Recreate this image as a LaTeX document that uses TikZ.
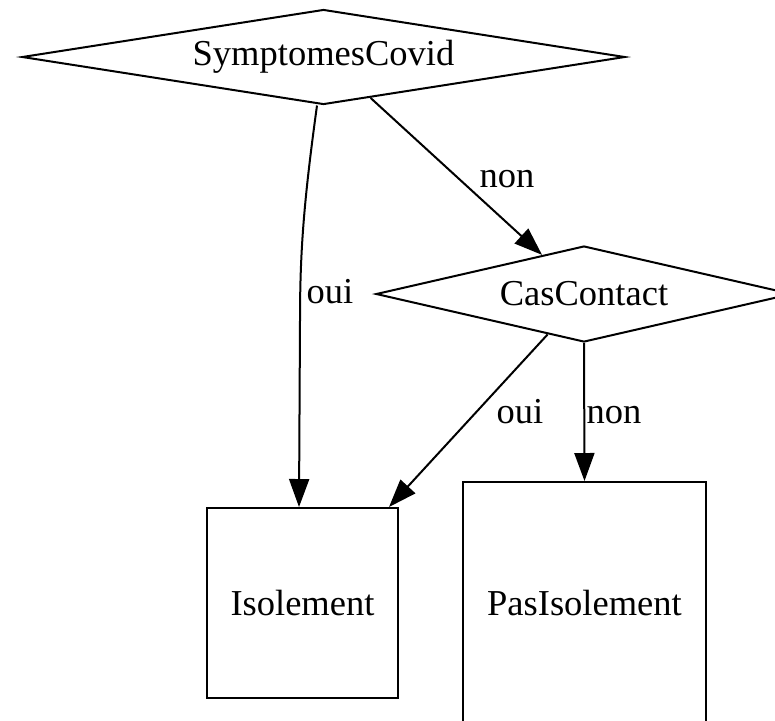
\documentclass[tikz,border=0pt]{standalone}
\usepackage{fontspec}
\setmainfont{Liberation Serif}
\usetikzlibrary{shapes.geometric,arrows.meta,calc}
\begin{document}
\begin{tikzpicture}[
  x=0.5pt, y=-0.5pt,
  every node/.style={font=\fontsize{18.25}{22}\selectfont},
  decision/.style={draw, line width=1pt, shape=diamond, inner sep=0pt},
  outcome/.style={draw, line width=1pt, rectangle, inner sep=0pt},
  flow/.style={draw, line width=1pt, -{Triangle[length=14pt,width=10pt]}},
  lbl/.style={anchor=base, inner sep=0pt}
]
  \useasboundingbox (0,0) rectangle (775,720);
  \fill[white] (0,0) rectangle (775,720);
  \clip (0,0) rectangle (775,720);

  % decision nodes
  \node[decision, minimum width=301.5pt, minimum height=47.5pt, aspect=6.35]
    (sc) at (323.5,57) {SymptomesCovid};
  \node[decision, minimum width=208pt, minimum height=48pt, aspect=4.33]
    (cc) at (584,294) {CasContact};

  % outcome boxes
  \node[outcome, minimum width=95.5pt, minimum height=95pt]
    (iso) at (302.5,603) {Isolement};
  \node[outcome, minimum width=121.5pt, minimum height=121pt]
    (pas) at (584.5,603) {PasIsolement};

  % connectors
  \draw[flow] ($(sc.south)+(-6.5,0)$) .. controls (304,200) and (300,250) .. (300,320)
    -- ($(iso.north)+(-3.5,0)$);
  \draw[flow] (sc.-41.4) -- (cc.137.9);
  \draw[flow] (cc.-132) -- ($(iso.north east)+(-10,0)$);
  \draw[flow] (cc.south) -- (pas.north);

  % connector labels
  \node[lbl] (l1) at (330,303) {oui};
  \node[lbl] (l2) at (507,187) {non};
  \node[lbl] (l3) at (520,423) {oui};
  \node[lbl] (l4) at (614,423) {non};
\end{tikzpicture}
\end{document}
